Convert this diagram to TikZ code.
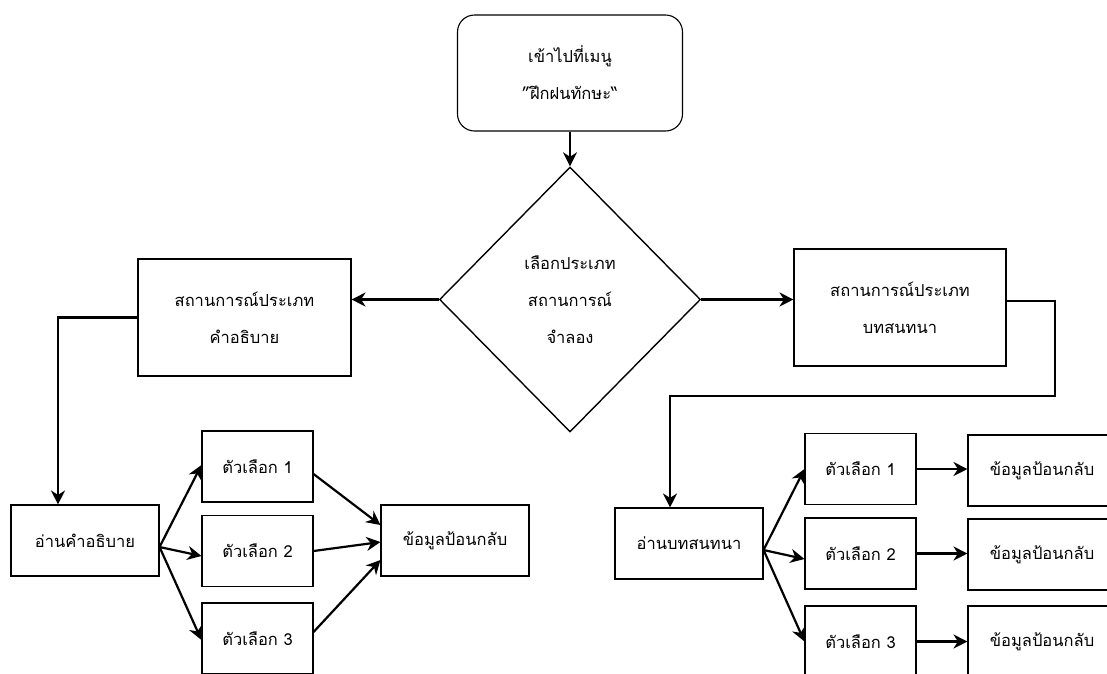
\documentclass[tikz,border=0pt]{standalone}
\usepackage{fontspec}
\setmainfont[Script=Thai]{Loma}
\usetikzlibrary{shapes.geometric, arrows.meta}

\begin{document}
\begin{tikzpicture}[x=1pt, y=-1pt, >={Stealth[length=14pt, width=14pt, inset=4.5pt]},
    box/.style={draw, line width=1.1pt, inner sep=0pt, align=center, font=\fontsize{16.5}{37}\selectfont},
    link/.style={->, line width=2.2pt}]
    \useasboundingbox (0,0) rectangle (1107,673);

    % Menu
    \node[box, rounded corners=17pt, minimum width=225pt, minimum height=116pt] (menu) at (570,73) {เข้าไปที่เมนู\\”ฝึกฝนทักษะ“};
    % Decision
    \node[box, diamond, line width=1.4pt, minimum width=261pt, minimum height=265pt] (choose) at (570,299.5) {เลือกประเภท\\สถานการณ์\\จำลอง};

    % Situation types
    \node[box, minimum width=213pt, minimum height=117pt] (descsit) at (244.5,317.5) {สถานการณ์ประเภท\\คำอธิบาย};
    \node[box, minimum width=212pt, minimum height=117pt] (dialsit) at (900,307.5) {สถานการณ์ประเภท\\บทสนทนา};

    % Description branch
    \node[box, minimum width=148pt, minimum height=71pt] (readdesc) at (85,540.5) {อ่านคำอธิบาย};
    \node[box, minimum width=111pt, minimum height=71pt] (descopt1) at (257.5,466.5) {ตัวเลือก 1};
    \node[box, minimum width=111pt, minimum height=71pt] (descopt2) at (257.5,551) {ตัวเลือก 2};
    \node[box, minimum width=111pt, minimum height=71pt] (descopt3) at (257.5,638.5) {ตัวเลือก 3};
    \node[box, minimum width=148pt, minimum height=71pt] (descfb) at (455,540.5) {ข้อมูลป้อนกลับ};

    % Dialogue branch
    \node[box, minimum width=148pt, minimum height=71pt] (readdial) at (689,543.5) {อ่านบทสนทนา};
    \node[box, minimum width=111pt, minimum height=71pt] (dialopt1) at (860.5,469) {ตัวเลือก 1};
    \node[box, minimum width=111pt, minimum height=71pt] (dialopt2) at (860.5,553.5) {ตัวเลือก 2};
    \node[box, minimum width=111pt, minimum height=71pt] (dialopt3) at (860.5,641.5) {ตัวเลือก 3};
    \node[box, minimum width=148pt, minimum height=71pt] (dialfb1) at (1042,470.5) {ข้อมูลป้อนกลับ};
    \node[box, minimum width=148pt, minimum height=71pt] (dialfb2) at (1042,554.5) {ข้อมูลป้อนกลับ};
    \node[box, minimum width=148pt, minimum height=71pt] (dialfb3) at (1042,641.5) {ข้อมูลป้อนกลับ};

    % Coordinates
    \coordinate (dialturn) at (1055,396);
    \coordinate (descfork) at ([yshift=-6.5pt]readdesc.east);
    \coordinate (dialfork) at ([yshift=-6.5pt]readdial.east);

    % Lines
    \draw[link] (menu) -- (choose);
    \draw[link] (choose.west) -- (choose.west -| descsit.east);
    \draw[link] (choose.east) -- (choose.east -| dialsit.west);
    \draw[link] (descsit.west) -| ([xshift=-27pt]readdesc.north);
    \draw[link] ([yshift=6.5pt]dialsit.east) -| (dialturn) -| ([xshift=-19pt]readdial.north);

    % Options
    \draw[link] (descfork) -- ([yshift=1.5pt]descopt1.west);
    \draw[link] (descfork) -- ([yshift=-5pt]descopt2.west);
    \draw[link] (descfork) -- ([yshift=-1.5pt]descopt3.west);
    \draw[link] (dialfork) -- (dialopt1.west);
    \draw[link] (dialfork) -- ([yshift=-5.5pt]dialopt2.west);
    \draw[link] (dialfork) -- (dialopt3.west);

    % Feedback
    \draw[link] ([yshift=-7.5pt]descopt1.east) -- ([yshift=15.5pt]descfb.west);
    \draw[link] (descopt2.east) -- ([yshift=-1.5pt]descfb.west);
    \draw[link] ([yshift=6.5pt]descopt3.east) -- ([yshift=-19.5pt]descfb.west);
    \draw[link] (dialopt1.east) -- (dialopt1.east -| dialfb1.west);
    \draw[link] (dialopt2.east) -- (dialopt2.east -| dialfb2.west);
    \draw[link] (dialopt3.east) -- (dialopt3.east -| dialfb3.west);
\end{tikzpicture}
\end{document}
